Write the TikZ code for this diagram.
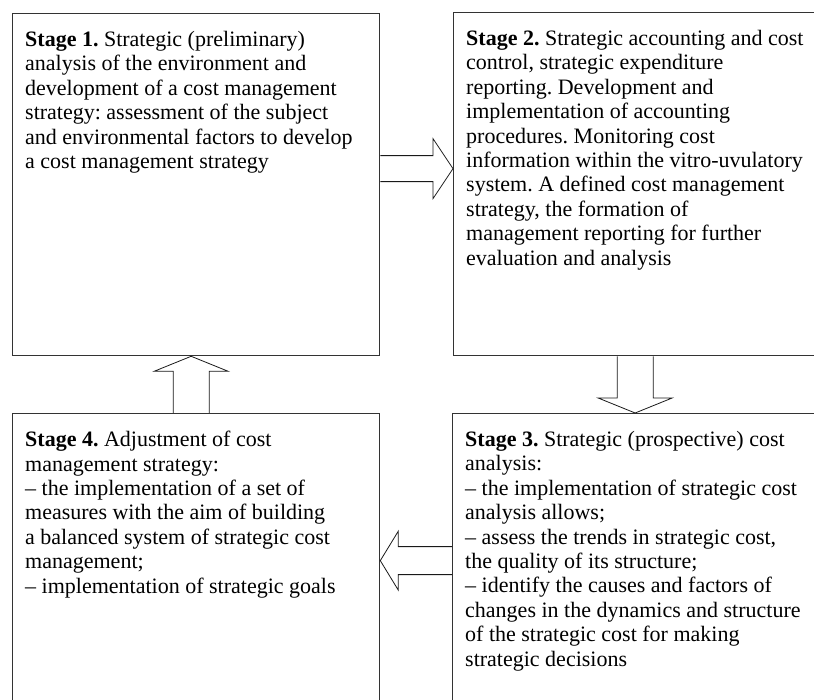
\documentclass[tikz,border=0pt]{standalone}
\usepackage{fontspec}
\setmainfont{Liberation Serif}
\usepackage{tikz}
\usetikzlibrary{calc}
\frenchspacing

% hollow block arrow: from, to, half shaft, half head, head length
\newcommand{\hollowarrow}[5]{%
  \coordinate (hb) at ($(#2)!#5!(#1)$);
  \draw[arrowline] ($(#1)!#3!90:(#2)$) -- ($(hb)!#3!90:(#2)$) -- ($(hb)!#4!90:(#2)$) -- (#2)
    -- ($(hb)!#4!-90:(#2)$) -- ($(hb)!#3!-90:(#2)$) -- ($(#1)!#3!-90:(#2)$);}

\begin{document}
\begin{tikzpicture}[x=1pt, y=1pt,
  font=\fontsize{22}{24.4}\selectfont,
  stagebox/.style={draw=black!80, line width=1.3pt, anchor=north west, inner sep=0pt},
  stagetext/.style={anchor=north west, align=left, inner sep=0pt},
  arrowline/.style={draw=black!90, line width=0.8pt, line join=miter}]
  \useasboundingbox (0,0) rectangle (814,699);
  \clip (0,0) rectangle (814,699);

  % Stage boxes
  \node[stagebox, minimum width=367pt, minimum height=342pt] (s1) at (12,686) {};
  \node[stagebox, minimum width=363pt, minimum height=343pt] (s2) at (453,687) {};
  \node[stagebox, minimum width=364pt, minimum height=294pt] (s3) at (452,286) {};
  \node[stagebox, minimum width=367pt, minimum height=294pt] (s4) at (12,286) {};

  % Texts
  \node[stagetext] (t1) at ([shift={(13,-18)}]s1.north west) {\textbf{Stage 1.} Strategic (preliminary)\\
    analysis of the environment and\\
    development of a cost management\\
    strategy: assessment of the subject\\
    and environmental factors to develop\\
    a cost management strategy};
  \node[stagetext] (t2) at ([shift={(13,-18)}]s2.north west) {\textbf{Stage 2.} Strategic accounting and cost\\
    control, strategic expenditure\\
    reporting. Development and\\
    implementation of accounting\\
    procedures. Monitoring cost\\
    information within the vitro-uvulatory\\
    system. A defined cost management\\
    strategy, the formation of\\
    management reporting for further\\
    evaluation and analysis};
  \node[stagetext] (t3) at ([shift={(13,-18)}]s3.north west) {\textbf{Stage 3.} Strategic (prospective) cost\\
    analysis:\\
    -- the implementation of strategic cost\\
    analysis allows;\\
    -- assess the trends in strategic cost,\\
    the quality of its structure;\\
    -- identify the causes and factors of\\
    changes in the dynamics and structure\\
    of the strategic cost for making\\
    strategic decisions};
  \node[stagetext] (t4) at ([shift={(13,-18)}]s4.north west) {\textbf{Stage 4.} Adjustment of cost\\
    management strategy:\\
    -- the implementation of a set of\\
    measures with the aim of building\\
    a balanced system of strategic cost\\
    management;\\
    -- implementation of strategic goals};

  % Arrows between stages
  \coordinate (r1) at ([yshift=16pt]s1.east);
  \coordinate (r2) at (r1 -| s2.west);
  \hollowarrow{r1}{r2}{13pt}{30pt}{20pt}

  \coordinate (d1) at (s2.south);
  \coordinate (d2) at (d1 |- s3.north);
  \hollowarrow{d1}{d2}{18pt}{37pt}{15pt}

  \coordinate (l1) at (s3.west);
  \coordinate (l2) at (l1 -| s4.east);
  \hollowarrow{l1}{l2}{14pt}{29.5pt}{18pt}

  \coordinate (u1) at ([xshift=-5pt]s4.north);
  \coordinate (u2) at (u1 |- s1.south);
  \hollowarrow{u1}{u2}{18pt}{37pt}{15pt}

\end{tikzpicture}
\end{document}
